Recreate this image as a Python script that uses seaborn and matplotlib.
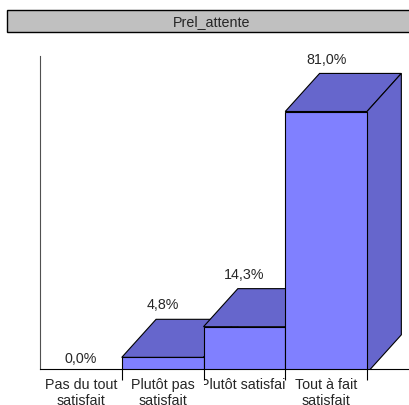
import matplotlib
matplotlib.use("Agg")
import matplotlib.pyplot as plt
from matplotlib.patches import Polygon, Rectangle
from matplotlib.transforms import Bbox, TransformedBbox, blended_transform_factory
import seaborn as sns

title = "Prel_attente"
categories = ["Pas du tout\nsatisfait", "Plutôt pas\nsatisfait", "Plutôt satisfait", "Tout à fait\nsatisfait"]
values = [0.0, 4.8, 14.3, 81.0]

FRONT = "#8080FF"
SHADE = "#6666CC"
FLOOR = 1.2            # thickness of the 3D floor, in value units
DEPTH_X = 0.42         # box depth along x (category units)
DEPTH_Y = 11.8         # box depth along y (value units)
YMAX = 98.2
FS = 10.3

sns.set_style("white")
plt.rcParams["font.family"] = ["Liberation Sans", "DejaVu Sans"]
plt.rcParams["font.size"] = FS

W, H = 409, 406
fig = plt.figure(figsize=(W / 100, H / 100), dpi=100)
ax = fig.add_axes([40 / W, (H - 370) / H, 1 - 40 / W, (370 - 57) / H])

sns.barplot(x=categories, y=values, color=FRONT, saturation=1, width=1.0,
            edgecolor="black", linewidth=0.8, ax=ax)

ax.set_xlim(-0.5, -0.5 + 369 / 81.75)
ax.set_ylim(FLOOR, YMAX)

# front faces drawn by seaborn; add top and side faces for each visible box
for i, (bar, v) in enumerate(zip(ax.patches, values)):
    bar.set_zorder(3 + 2 * i)
    x0, x1 = i - 0.5, i + 0.5
    if v > FLOOR:
        top = Polygon([(x0, v), (x1, v), (x1 + DEPTH_X, v + DEPTH_Y), (x0 + DEPTH_X, v + DEPTH_Y)],
                      closed=True, facecolor=SHADE, edgecolor="black", linewidth=0.8, zorder=2 + 2 * i)
        side = Polygon([(x1, 0), (x1, v), (x1 + DEPTH_X, v + DEPTH_Y), (x1 + DEPTH_X, DEPTH_Y)],
                       closed=True, facecolor=SHADE, edgecolor="black", linewidth=0.8, zorder=2 + 2 * i)
        ax.add_patch(top)
        ax.add_patch(side)
        ly = v + DEPTH_Y + 4.6
    else:
        ly = FLOOR + 3.4
    ax.text(i, ly, f"{v:.1f}".replace(".", ",") + "%", ha="center", va="center",
            fontsize=FS, zorder=20)

# axes lines
for s in ["top", "right"]:
    ax.spines[s].set_visible(False)
ax.spines["left"].set_color("#505050")
ax.spines["left"].set_linewidth(0.8)
ax.spines["bottom"].set_color("black")
ax.spines["bottom"].set_linewidth(0.8)
ax.spines["bottom"].set_zorder(30)
ax.set_yticks([])
ax.set_ylabel("")

ax.set_xticks(range(len(categories)))
ax.set_xticklabels(categories, fontsize=FS, linespacing=1.12)
ax.set_xticks([i + 0.5 for i in range(len(categories))], minor=True)
ax.tick_params(axis="x", which="major", length=0, pad=6)
ax.tick_params(axis="x", which="minor", length=8, width=0.8, direction="out",
               bottom=True, color="black")

# keep each category label inside its own slot
clip_tr = blended_transform_factory(ax.transData, fig.transFigure)
for i, lab in enumerate(ax.get_xticklabels()):
    lab.set_clip_box(TransformedBbox(Bbox([[i - 0.5, 0], [i + 0.5, 1]]), clip_tr))
    lab.set_clip_on(True)

# title banner
fig.patches.append(Rectangle((7 / W, (H - 33) / H), 1.05, 22 / H, transform=fig.transFigure,
                             facecolor="#C0C0C0", edgecolor="black", linewidth=1.0))
fig.text(212 / W, 1 - 22 / H, title, ha="center", va="center", fontsize=FS)

fig.savefig("out.png", dpi=100)
